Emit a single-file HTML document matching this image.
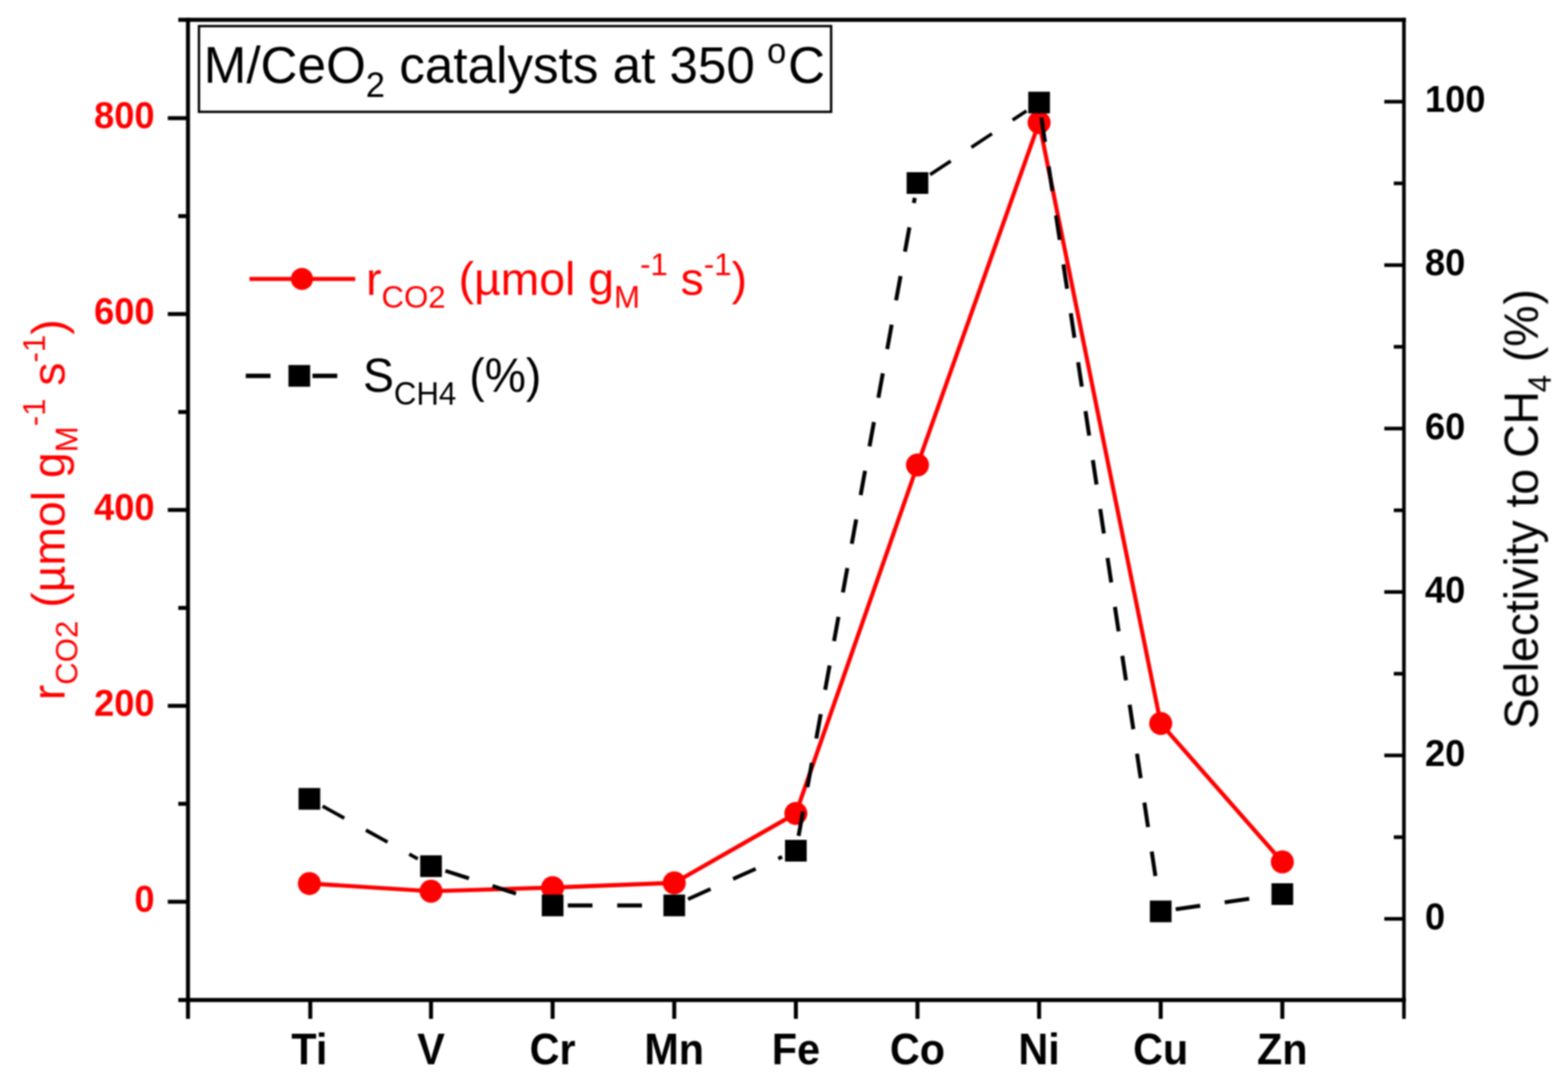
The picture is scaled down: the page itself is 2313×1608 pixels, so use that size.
<!DOCTYPE html>
<html lang="en"><head><meta charset="utf-8"><title>M/CeO2 catalysts at 350 C</title>
<style>html,body{margin:0;padding:0;background:#fff}body{width:2313px;height:1608px;overflow:hidden}svg{display:block;position:absolute;left:0;top:0}text{font-family:"Liberation Sans",sans-serif}</style>
</head><body>
<svg width="2313" height="1608" viewBox="0 0 2313 1608" role="img" aria-label="M/CeO2 catalysts at 350 C">
<rect x="0" y="0" width="2313" height="1608" fill="#fff"/>
<g id="chart" style="filter:blur(1.1px)">
<g stroke="#000" stroke-width="5.9" fill="none" stroke-linecap="butt">
<path d="M263 29.2 H2073.95"/>
<path d="M263 1475.3 H2073.95"/>
<path d="M277.3 26.25 V1503"/>
<path stroke-width="5.3" d="M2071 26.25 V1503"/>
<path d="M457.7 1475.3 V1503"/>
<path d="M635.8 1475.3 V1503"/>
<path d="M815.2 1475.3 V1503"/>
<path d="M994.6 1475.3 V1503"/>
<path d="M1174.0 1475.3 V1503"/>
<path d="M1353.4 1475.3 V1503"/>
<path d="M1532.8 1475.3 V1503"/>
<path d="M1712.2 1475.3 V1503"/>
<path d="M1891.6 1475.3 V1503"/>
<path d="M247.5 1330.3 H277.3"/>
<path d="M247.5 1041.3 H277.3"/>
<path d="M247.5 752.3 H277.3"/>
<path d="M247.5 463.3 H277.3"/>
<path d="M247.5 174.3 H277.3"/>
<path d="M263 1185.8 H277.3"/>
<path d="M263 896.8 H277.3"/>
<path d="M263 607.8 H277.3"/>
<path d="M263 318.8 H277.3"/>
<path stroke-width="5.4" d="M2042 1355.5 H2071"/>
<path stroke-width="5.4" d="M2042 1114.4 H2071"/>
<path stroke-width="5.4" d="M2042 873.3 H2071"/>
<path stroke-width="5.4" d="M2042 632.2 H2071"/>
<path stroke-width="5.4" d="M2042 391.1 H2071"/>
<path stroke-width="5.4" d="M2042 150.0 H2071"/>
<path stroke-width="5.4" d="M2056 1235.0 H2071"/>
<path stroke-width="5.4" d="M2056 993.9 H2071"/>
<path stroke-width="5.4" d="M2056 752.8 H2071"/>
<path stroke-width="5.4" d="M2056 511.6 H2071"/>
<path stroke-width="5.4" d="M2056 270.5 H2071"/>
</g>
<g font-weight="bold" font-size="53.5" fill="#f00" text-anchor="end">
<text transform="translate(228 1345.0) scale(1 1.05)">0</text>
<text transform="translate(228 1056.0) scale(1 1.05)">200</text>
<text transform="translate(228 767.0) scale(1 1.05)">400</text>
<text transform="translate(228 478.0) scale(1 1.05)">600</text>
<text transform="translate(228 189.0) scale(1 1.05)">800</text>
</g>
<g font-weight="bold" font-size="53.5" fill="#000" text-anchor="start">
<text transform="translate(2102 1370.9) scale(1 1.05)">0</text>
<text transform="translate(2102 1129.8) scale(1 1.05)">20</text>
<text transform="translate(2102 888.7) scale(1 1.05)">40</text>
<text transform="translate(2102 647.6) scale(1 1.05)">60</text>
<text transform="translate(2102 406.5) scale(1 1.05)">80</text>
<text transform="translate(2102 165.4) scale(1 1.05)">100</text>
</g>
<g font-weight="bold" font-size="61" fill="#000" text-anchor="middle">
<text transform="translate(456.4 1569.6) scale(1 1.06)">Ti</text>
<text transform="translate(635.8 1569.6) scale(1 1.06)">V</text>
<text transform="translate(815.2 1569.6) scale(1 1.06)">Cr</text>
<text transform="translate(994.6 1569.6) scale(1 1.06)">Mn</text>
<text transform="translate(1174.0 1569.6) scale(1 1.06)">Fe</text>
<text transform="translate(1353.4 1569.6) scale(1 1.06)">Co</text>
<text transform="translate(1532.8 1569.6) scale(1 1.06)">Ni</text>
<text transform="translate(1712.2 1569.6) scale(1 1.06)">Cu</text>
<text transform="translate(1891.6 1569.6) scale(1 1.06)">Zn</text>
</g>
<rect x="293.5" y="38.5" width="932.5" height="126.5" fill="#fff" stroke="#000" stroke-width="3.5"/>
<text x="300.5" y="121.8" font-size="75.5" fill="#000">M/CeO<tspan font-size="51" dy="21.5">2</tspan><tspan dy="-21.5"> catalysts at 350 </tspan><tspan font-size="51" dy="-28.5" dx="-3">o</tspan><tspan dy="28.5" dx="2.5">C</tspan></text>
<text transform="translate(95.3 1033) rotate(-90)" font-size="68.4" fill="#f00">r<tspan font-size="46" dy="18.5">CO2</tspan><tspan dy="-18.5"> (µmol g</tspan><tspan font-size="46" dy="18.5">M</tspan><tspan font-size="46" dy="-47.1">-1</tspan><tspan dy="28.6"> s</tspan><tspan font-size="46" dy="-28.6">-1</tspan><tspan dy="28.6">)</tspan></text>
<text transform="translate(2268.4 1075.5) rotate(-90) scale(1 1.03)" font-size="68.4" fill="#000">Selectivity to<tspan dx="-3"> CH</tspan><tspan font-size="46" dy="18.5" dx="-2">4</tspan><tspan dy="-18.5"> (%</tspan><tspan dx="1.5">)</tspan></text>
<path d="M368 411.5 H524 " stroke="#f00" stroke-width="6.1" fill="none"/>
<circle cx="445.4" cy="411.5" r="16.3" fill="#f00"/>
<text transform="translate(540 435)" font-size="68.4" fill="#f00">r<tspan font-size="46" dy="18.5">CO2</tspan><tspan dy="-18.5"> (µmol g</tspan><tspan font-size="46" dy="18.5">M</tspan><tspan font-size="46" dy="-47.1">-1</tspan><tspan dy="28.6"> s</tspan><tspan font-size="46" dy="-28.6">-1</tspan><tspan dy="28.6">)</tspan></text>
<path d="M362.5 554.5 H399 M461 554.5 H497.5" stroke="#000" stroke-width="6.5" fill="none"/>
<rect x="425.5" y="538.5" width="32" height="32" fill="#000"/>
<text transform="translate(535.5 578) scale(1 1.03)" font-size="68.4" fill="#000">S<tspan font-size="46" dy="18.5">CH4</tspan><tspan dy="-18.5"> (%)</tspan></text>
<polyline points="456.4,1303.4 635.8,1314.7 815.2,1309.4 994.6,1302.4 1174.0,1200.0 1353.4,686.0 1532.8,180.7 1712.2,1067.3 1891.6,1271.5" fill="none" stroke="#f00" stroke-width="6.1" stroke-linejoin="round"/>
<g fill="#f00">
<circle cx="456.4" cy="1303.4" r="17"/>
<circle cx="635.8" cy="1314.7" r="17"/>
<circle cx="815.2" cy="1309.4" r="17"/>
<circle cx="994.6" cy="1302.4" r="17"/>
<circle cx="1174.0" cy="1200.0" r="17"/>
<circle cx="1353.4" cy="686.0" r="17"/>
<circle cx="1532.8" cy="180.7" r="17"/>
<circle cx="1712.2" cy="1067.3" r="17"/>
<circle cx="1891.6" cy="1271.5" r="17"/>
</g>
<g fill="none" stroke="#000" stroke-dasharray="36.5 36.5">
<path stroke-width="5.2" d="M475.9 1189.3 L616.3 1267.0"/>
<path stroke-width="5.7" d="M657.0 1284.6 L794.0 1328.9"/>
<path stroke-width="6.0" d="M837.5 1335.7 L972.3 1335.7"/>
<path stroke-width="5.5" d="M1014.9 1326.6 L1153.7 1264.1"/>
<path stroke-width="5.9" d="M1178.0 1233.1 L1349.4 291.9"/>
<path stroke-width="5.0" d="M1372.0 257.7 L1514.2 163.6"/>
<path stroke-width="5.9" d="M1536.1 173.4 L1708.9 1322.4"/>
<path stroke-width="5.9" d="M1734.3 1341.4 L1869.5 1322.1"/>
</g>
<g fill="#000">
<rect x="440.4" y="1162.5" width="32" height="32"/>
<rect x="619.8" y="1261.8" width="32" height="32"/>
<rect x="799.2" y="1319.7" width="32" height="32"/>
<rect x="978.6" y="1319.7" width="32" height="32"/>
<rect x="1158.0" y="1239.0" width="32" height="32"/>
<rect x="1337.4" y="254.0" width="32" height="32"/>
<rect x="1516.8" y="135.3" width="32" height="32"/>
<rect x="1696.2" y="1328.5" width="32" height="32"/>
<rect x="1875.6" y="1303.0" width="32" height="32"/>
</g>
</g>
</svg>
</body></html>
